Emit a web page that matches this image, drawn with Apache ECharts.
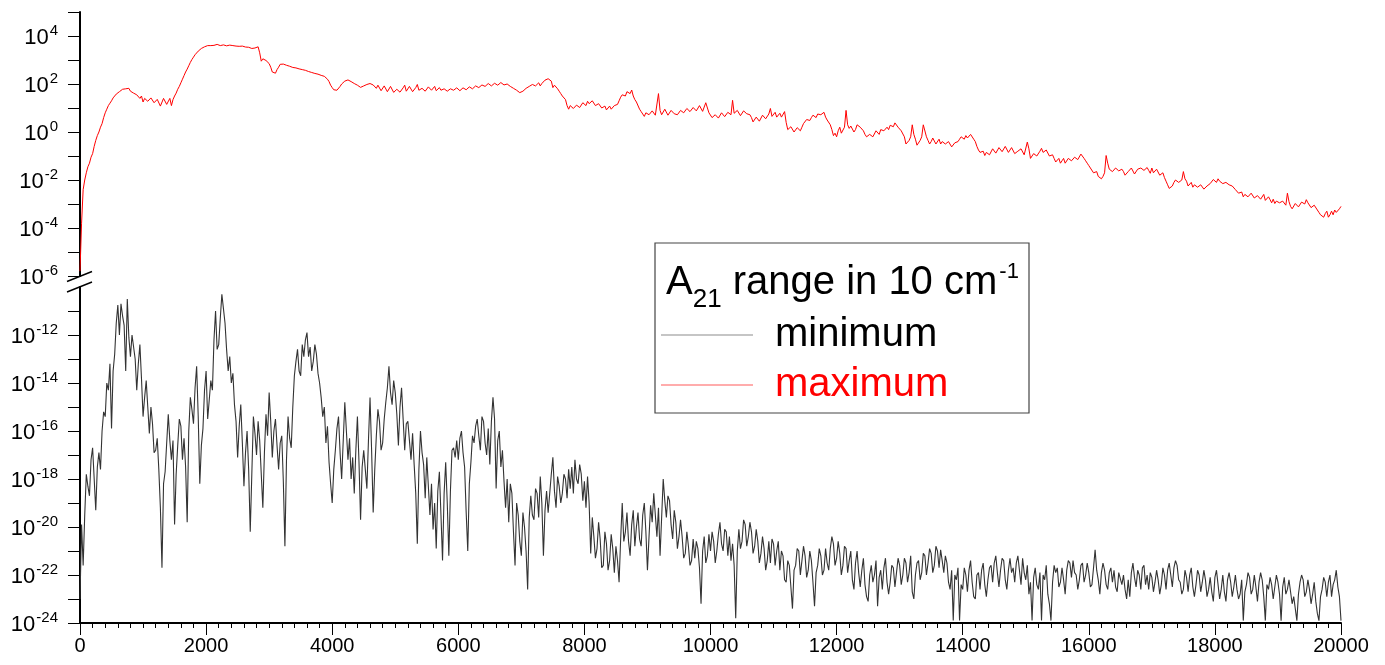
<!DOCTYPE html>
<html>
<head>
<meta charset="utf-8">
<script src="https://cdn.jsdelivr.net/npm/echarts@6/dist/echarts.min.js"></script>
<style>
  html, body { margin: 0; padding: 0; background: #fff; }
  #chart { width: 1385px; height: 665px; }
</style>
</head>
<body>
<div id="chart"></div>
<script>
// Wavenumber spacing (cm-1) of the sampled spectra; one row below = 1000 cm-1.
const step = 25;

// log10 of the largest A21 value found in each window (red curve).
const maxLog10 = [
  -5.8,-3.8,-2.4,-2.0,-1.7,-1.45,-1.3,-1.05,-0.9,-0.6,-0.35,-0.15,0.0,0.2,0.35,0.6,0.8,0.95,1.1,1.2,1.3,1.42,1.5,1.58,1.62,1.68,1.72,1.78,1.82,1.8,1.78,1.82,1.7,1.66,1.62,1.6,1.55,1.48,1.4,1.5,
  1.25,1.4,1.45,1.28,1.2,1.42,1.38,1.22,1.15,1.36,1.3,1.08,1.05,1.4,1.35,1.15,1.2,1.4,1.1,1.35,1.5,1.62,1.78,1.9,2.05,2.2,2.35,2.5,2.62,2.76,2.9,3.02,3.12,3.22,3.3,3.37,3.42,3.48,3.52,3.55,
  3.58,3.6,3.62,3.6,3.64,3.61,3.6,3.65,3.63,3.6,3.58,3.63,3.62,3.59,3.57,3.62,3.64,3.6,3.59,3.58,3.6,3.57,3.55,3.58,3.56,3.54,3.52,3.53,3.5,3.48,3.46,3.5,3.52,3.55,3.3,2.95,3.05,3.02,2.98,3.0,
  2.85,2.7,2.5,2.42,2.45,2.6,2.7,2.82,2.86,2.83,2.8,2.78,2.75,2.74,2.72,2.69,2.7,2.67,2.66,2.63,2.62,2.6,2.58,2.57,2.55,2.52,2.5,2.48,2.45,2.44,2.42,2.41,2.4,2.36,2.35,2.32,2.3,2.2,2.1,1.95,
  1.85,1.76,1.72,1.74,1.8,1.9,2.0,2.08,2.12,2.16,2.17,2.13,2.1,2.05,2.02,1.97,1.95,1.9,1.86,1.9,1.92,1.95,1.98,2.01,2.02,2.0,1.96,1.9,1.82,1.95,1.9,1.72,1.75,1.92,1.88,1.68,1.7,1.9,1.82,1.65,
  1.62,1.78,1.85,1.66,1.7,1.84,1.95,1.7,1.72,1.9,1.88,1.68,1.76,1.85,1.98,1.74,1.7,1.82,1.9,1.7,1.75,1.88,1.95,1.74,1.8,1.9,1.72,1.8,1.85,1.74,1.68,1.8,1.78,1.7,1.72,1.8,1.85,1.74,1.76,1.84,
  1.8,1.72,1.74,1.84,1.86,1.76,1.78,1.88,1.9,1.8,1.82,1.92,1.95,1.85,1.88,1.96,1.98,1.9,1.92,2.02,2.0,1.92,1.94,2.03,2.04,1.95,1.97,2.06,2.05,1.96,1.9,2.0,1.98,1.9,1.86,1.82,1.78,1.74,1.7,1.64,
  1.62,1.7,1.75,1.82,1.88,1.9,1.92,1.98,1.96,1.92,2.0,2.05,1.92,2.02,2.1,2.16,2.2,2.22,2.25,2.12,1.85,1.95,2.0,1.8,1.7,1.6,1.5,1.42,1.35,1.1,0.95,1.1,1.05,0.98,1.0,1.12,1.15,1.02,1.1,1.22,
  1.2,1.1,1.28,1.18,1.15,1.3,1.25,1.1,1.05,1.18,1.12,1.0,0.95,1.08,0.92,1.0,1.08,0.95,0.98,1.1,1.05,1.15,1.3,1.45,1.55,1.62,1.5,1.68,1.72,1.6,1.75,1.5,1.35,1.25,1.2,0.95,0.85,0.75,0.65,0.8,
  0.85,0.72,0.7,0.88,0.9,0.7,0.75,1.6,0.9,0.72,0.78,0.95,0.95,0.7,0.72,0.9,0.88,0.76,0.8,0.72,0.75,0.9,0.95,0.8,0.82,0.98,1.0,0.85,0.88,1.02,1.05,0.88,0.85,1.1,1.15,0.86,0.9,1.22,1.2,0.8,
  0.75,0.6,0.57,0.72,0.7,0.58,0.62,0.8,0.78,0.64,0.68,0.82,0.85,0.72,1.32,0.78,0.75,0.9,0.85,0.68,0.7,0.88,0.9,0.76,0.82,0.72,0.6,0.42,0.45,0.62,0.6,0.45,0.5,0.7,0.72,0.55,0.62,0.75,0.98,0.65,
  0.7,0.82,0.62,0.7,0.78,0.62,0.7,0.85,0.4,0.1,0.1,0.22,0.15,0.0,0.05,0.18,0.12,0.05,0.2,0.35,0.4,0.52,0.55,0.48,0.6,0.7,0.68,0.6,0.75,0.8,0.72,0.65,0.82,0.62,0.5,0.45,0.3,0.1,-0.15,-0.05,
  -0.2,0.05,0.2,-0.05,0.0,0.2,0.9,0.3,0.15,0.25,0.3,0.0,0.1,0.3,0.38,0.2,0.25,0.05,-0.1,-0.2,-0.25,-0.1,-0.05,-0.2,-0.15,0.05,0.02,-0.1,0.1,0.15,0.05,0.12,0.2,0.1,0.28,0.35,0.22,0.38,0.35,0.2,
  0.25,0.05,0.1,-0.2,-0.5,-0.55,-0.35,-0.2,0.3,-0.1,-0.3,-0.55,-0.5,-0.35,-0.2,0.3,0.25,-0.2,-0.35,-0.5,-0.4,-0.25,-0.3,-0.5,-0.45,-0.3,-0.5,-0.4,-0.35,-0.5,-0.55,-0.4,-0.45,-0.62,-0.6,-0.45,-0.52,-0.4,-0.3,-0.2,
  -0.2,-0.3,-0.15,-0.25,-0.22,-0.1,-0.12,-0.3,-0.4,-0.6,-0.75,-0.85,-0.9,-0.8,-0.98,-0.85,-0.78,-0.95,-0.9,-0.7,-0.72,-0.88,-0.85,-0.65,-0.68,-0.82,-0.8,-0.6,-0.6,-0.85,-0.78,-0.65,-0.7,-0.9,-0.95,-0.8,-0.85,-0.7,-0.75,-0.95,
  -0.9,-0.42,-0.7,-1.1,-1.1,-0.9,-0.85,-1.0,-0.95,-0.8,-0.68,-0.85,-0.9,-0.75,-0.8,-1.0,-1.05,-0.95,-1.1,-1.25,-1.2,-1.1,-1.3,-1.2,-1.1,-1.3,-1.25,-1.1,-1.05,-1.2,-1.18,-1.05,-1.0,-1.15,-1.1,-0.92,-0.95,-1.1,-1.2,-1.3,
  -1.4,-1.5,-1.55,-1.7,-1.75,-1.65,-1.85,-1.9,-1.95,-1.85,-1.7,-0.98,-1.3,-1.55,-1.5,-1.65,-1.6,-1.5,-1.45,-1.62,-1.7,-1.55,-1.65,-1.8,-1.82,-1.65,-1.7,-1.5,-1.55,-1.75,-1.72,-1.55,-1.6,-1.5,-1.45,-1.6,-1.52,-1.48,-1.6,-1.72,
  -1.5,-1.7,-1.65,-1.55,-1.6,-1.8,-1.75,-1.7,-1.9,-2.05,-2.2,-2.35,-2.4,-2.25,-2.1,-2.0,-1.95,-2.1,-2.15,-2.0,-1.65,-1.95,-2.05,-2.25,-2.2,-2.1,-2.3,-2.2,-2.15,-2.3,-2.35,-2.2,-2.25,-2.38,-2.42,-2.25,-2.3,-2.15,-2.1,-1.98,
  -2.05,-2.1,-1.95,-2.05,-2.0,-2.15,-2.2,-2.1,-2.05,-2.2,-2.15,-2.25,-2.3,-2.4,-2.45,-2.55,-2.6,-2.5,-2.7,-2.6,-2.55,-2.7,-2.72,-2.55,-2.6,-2.75,-2.8,-2.65,-2.62,-2.8,-2.75,-2.6,-2.85,-2.9,-2.7,-2.82,-2.95,-2.8,-2.98,-2.88,
  -2.85,-2.95,-3.0,-2.88,-2.9,-3.05,-2.55,-2.9,-3.1,-3.2,-3.12,-2.98,-2.95,-3.12,-3.05,-2.92,-2.9,-3.0,-2.82,-2.95,-3.0,-3.15,-3.2,-3.05,-3.1,-3.25,-3.35,-3.45,-3.5,-3.55,-3.4,-3.3,-3.55,-3.45,-3.3,-3.45,-3.25,-3.35,-3.4,-3.2,
  -3.1
];

// log10 of the smallest A21 value found in each window (black curve).
const minLog10 = [
  -23.0,-19.9,-21.6,-19.5,-17.8,-18.3,-18.7,-17.2,-16.7,-18.0,-19.3,-17.5,-16.9,-17.6,-16.0,-15.2,-15.4,-14.0,-14.3,-13.2,-15.9,-13.5,-12.8,-11.5,-10.75,-12.0,-10.7,-11.2,-11.6,-13.5,-10.5,-12.1,-12.9,-12.0,-12.5,-13.0,-14.3,-13.2,-12.4,-13.8,
  -15.4,-14.6,-13.9,-15.0,-16.1,-15.0,-15.7,-16.9,-16.8,-16.3,-17.6,-19.2,-21.7,-18.2,-17.7,-16.5,-15.3,-16.4,-17.2,-16.4,-19.9,-17.8,-16.6,-15.5,-15.8,-17.2,-16.3,-17.5,-19.8,-16.0,-14.6,-15.1,-15.7,-14.2,-13.3,-15.4,-18.2,-16.6,-15.9,-14.3,
  -13.5,-15.5,-14.7,-13.9,-14.3,-12.2,-11.0,-12.6,-12.4,-11.3,-10.3,-10.9,-11.5,-12.6,-13.5,-12.9,-14.0,-13.6,-14.9,-15.6,-17.1,-15.8,-14.9,-16.5,-18.3,-16.9,-16.0,-17.6,-20.2,-17.8,-15.4,-16.1,-17.0,-15.6,-16.4,-17.8,-19.2,-16.9,-15.3,-16.2,
  -14.4,-15.6,-17.1,-16.0,-15.5,-16.6,-17.6,-16.5,-16.2,-18.1,-20.8,-17.2,-15.4,-16.3,-16.7,-15.0,-13.7,-13.1,-12.6,-13.5,-13.7,-12.4,-12.9,-12.2,-11.9,-12.9,-12.5,-13.5,-13.1,-12.4,-12.8,-13.6,-14.0,-14.6,-15.4,-15.0,-16.5,-15.8,-17.3,-18.2,
  -19.0,-17.6,-16.8,-15.9,-15.4,-16.9,-18.0,-16.4,-14.8,-16.0,-17.2,-16.3,-18.0,-17.1,-18.6,-16.8,-15.4,-17.3,-19.7,-17.5,-16.8,-17.6,-18.4,-16.4,-14.6,-16.8,-19.4,-17.6,-16.2,-15.1,-15.6,-16.8,-16.5,-15.5,-14.8,-14.2,-13.3,-14.4,-14.9,-13.9,
  -14.4,-15.3,-16.6,-15.0,-14.2,-15.5,-16.8,-15.7,-15.6,-16.4,-17.2,-16.1,-17.4,-18.6,-20.7,-17.6,-16.0,-16.9,-17.4,-18.8,-17.1,-18.3,-19.5,-18.2,-20.1,-19.0,-20.9,-18.5,-17.7,-19.5,-21.4,-18.6,-17.3,-19.0,-21.2,-18.5,-16.8,-16.7,-17.1,-16.4,
  -17.2,-16.3,-16.0,-16.9,-17.5,-19.4,-21.0,-18.2,-17.3,-16.2,-16.5,-15.8,-15.5,-16.2,-16.8,-15.4,-15.6,-16.5,-17.0,-15.9,-17.4,-15.6,-14.6,-15.5,-18.4,-16.4,-16.0,-17.5,-16.8,-18.1,-19.2,-18.0,-19.8,-18.2,-18.6,-20.2,-21.6,-19.0,-19.5,-20.6,
  -21.2,-19.4,-20.0,-21.0,-22.6,-19.6,-18.7,-19.5,-19.7,-18.4,-18.6,-19.6,-17.9,-19.0,-21.2,-19.3,-18.5,-19.4,-18.6,-17.8,-17.1,-18.5,-19.2,-17.9,-18.3,-19.0,-18.6,-17.8,-18.0,-18.8,-17.6,-18.4,-17.5,-18.6,-17.2,-18.0,-18.2,-17.4,-17.8,-18.9,
  -18.1,-19.2,-17.9,-19.0,-21.1,-19.6,-20.4,-21.3,-20.9,-19.8,-20.5,-21.7,-21.6,-20.2,-20.7,-21.8,-21.4,-20.3,-20.9,-21.9,-20.8,-21.4,-22.3,-20.5,-19.0,-20.6,-20.2,-19.4,-20.6,-21.2,-19.9,-19.3,-20.8,-20.0,-19.4,-20.5,-20.8,-19.5,-19.0,-20.2,
  -21.8,-20.4,-19.1,-19.8,-18.6,-19.5,-20.4,-19.2,-21.2,-19.6,-18.0,-18.9,-19.6,-18.7,-18.9,-19.9,-20.5,-19.3,-19.8,-20.9,-20.4,-19.7,-20.4,-21.3,-21.1,-20.2,-20.8,-21.6,-21.4,-20.5,-21.3,-20.6,-20.9,-21.7,-23.2,-21.0,-20.4,-21.5,-21.2,-20.3,
  -21.0,-20.2,-20.6,-21.5,-21.0,-20.3,-19.8,-20.7,-21.0,-20.1,-20.2,-21.2,-20.4,-21.4,-20.7,-21.6,-23.8,-21.0,-20.1,-20.9,-20.6,-19.7,-19.9,-20.8,-20.4,-19.8,-20.2,-21.1,-20.8,-20.1,-20.6,-21.5,-21.1,-20.4,-20.9,-21.8,-21.4,-20.6,-21.5,-20.5,
  -20.7,-21.6,-21.0,-20.6,-21.8,-21.0,-21.2,-22.2,-22.3,-21.4,-21.6,-22.5,-23.4,-21.8,-21.6,-20.9,-21.0,-22.0,-21.4,-20.8,-21.2,-22.1,-21.8,-21.0,-21.4,-22.3,-23.3,-21.9,-21.6,-20.9,-21.2,-22.0,-21.8,-20.9,-21.5,-21.8,-20.9,-20.4,-20.7,-21.6,
  -21.3,-20.6,-21.1,-22.0,-21.6,-20.8,-20.9,-21.9,-21.4,-21.0,-22.2,-22.6,-21.5,-21.0,-21.9,-22.5,-21.8,-21.3,-22.4,-22.9,-23.1,-22.0,-21.6,-22.3,-22.0,-21.4,-23.3,-22.1,-21.8,-22.6,-21.7,-21.3,-22.3,-22.8,-22.3,-21.6,-21.7,-22.5,-21.9,-21.3,
  -21.6,-22.4,-22.0,-21.3,-21.5,-22.3,-21.9,-21.2,-22.7,-23.0,-22.0,-21.5,-21.4,-22.2,-21.9,-21.1,-21.2,-22.0,-21.5,-20.9,-21.1,-21.9,-21.6,-20.8,-21.0,-21.7,-20.95,-21.4,-21.9,-21.2,-21.5,-22.3,-22.6,-21.8,-23.9,-22.0,-22.2,-21.7,-23.9,-22.4,
  -22.6,-21.7,-22.0,-22.7,-21.8,-21.4,-22.3,-22.9,-23.0,-22.0,-21.9,-22.6,-21.8,-21.5,-22.4,-22.9,-22.2,-21.7,-21.6,-22.3,-21.5,-21.2,-21.9,-22.5,-21.8,-21.3,-21.4,-22.2,-22.6,-21.8,-21.3,-21.9,-21.7,-22.3,-21.5,-21.2,-21.8,-22.4,-21.3,-21.9,
  -22.2,-21.6,-22.8,-22.3,-23.9,-22.1,-21.7,-22.4,-22.6,-21.9,-23.9,-22.0,-22.2,-21.6,-22.8,-23.2,-23.9,-22.3,-21.6,-21.9,-21.7,-22.5,-22.3,-21.7,-22.2,-22.8,-21.8,-21.4,-21.5,-22.1,-21.4,-21.9,-22.0,-22.6,-22.2,-21.6,-21.5,-22.3,-22.0,-21.5,
  -21.9,-22.5,-22.4,-21.7,-20.95,-21.8,-22.2,-22.8,-21.9,-21.5,-21.8,-22.4,-22.6,-21.9,-21.7,-22.3,-21.8,-22.5,-22.7,-21.9,-21.9,-22.4,-22.0,-22.6,-23.0,-22.2,-22.9,-21.9,-21.5,-22.1,-22.5,-21.8,-22.0,-22.6,-21.7,-21.6,-22.4,-22.0,-22.6,-21.9,
  -22.1,-22.7,-22.3,-21.8,-22.2,-22.8,-22.4,-21.7,-22.0,-22.6,-21.8,-21.5,-22.0,-22.5,-21.7,-21.4,-21.6,-22.2,-22.3,-22.8,-22.6,-21.8,-22.1,-22.7,-22.0,-21.7,-22.5,-22.9,-22.4,-21.8,-22.0,-22.7,-22.3,-21.8,-22.2,-22.9,-22.6,-22.1,-22.7,-23.1,
  -22.1,-21.8,-22.4,-23.0,-22.6,-22.0,-22.7,-23.1,-22.2,-21.9,-22.3,-22.9,-22.5,-22.0,-22.6,-23.0,-22.8,-22.2,-23.9,-22.7,-22.4,-21.9,-22.1,-22.8,-22.6,-22.0,-22.5,-23.1,-22.3,-21.9,-22.2,-22.9,-23.9,-22.4,-22.6,-22.1,-22.4,-23.0,-22.5,-22.0,
  -22.3,-22.8,-23.9,-22.5,-22.1,-22.8,-22.6,-22.2,-22.7,-23.2,-22.9,-23.4,-23.9,-22.8,-22.3,-22.0,-22.2,-22.9,-22.7,-22.2,-22.6,-23.2,-22.8,-22.3,-23.1,-23.6,-23.9,-22.9,-22.6,-22.1,-22.3,-22.9,-22.3,-22.0,-22.9,-22.4,-22.2,-21.8,-22.5,-22.9,
  -23.9
];

// Axis ticks: x in cm-1, y as powers of ten.
const xTickValues = [0, 2000, 4000, 6000, 8000, 10000, 12000, 14000, 16000, 18000, 20000];
const upperTickExps = [-6, -5, -4, -3, -2, -1, 0, 1, 2, 3, 4, 5];
const upperLabelExps = [-6, -4, -2, 0, 2, 4];
const lowerTickExps = [-24, -23, -22, -21, -20, -19, -18, -17, -16, -15, -14, -13, -12, -11];
const lowerLabelExps = [-24, -22, -20, -18, -16, -14, -12];

const legendTitle = '{a|A}{sub|21}{a| range in 10 cm}{sup|-1}';
const seriesNames = ['minimum', 'maximum'];

const FONT = '"Liberation Sans", Arial, sans-serif';
const X_MIN = 0, X_MAX = 20000;

const toPairs = arr => arr.map((v, i) => [i * step, v]);

const powerLabel = {
  fontFamily: FONT,
  color: '#000',
  margin: 22,
  formatter: v => '{b|10}{s|' + Math.round(v) + '}',
  rich: {
    b: { fontSize: 22, fontFamily: FONT, color: '#000', lineHeight: 26, verticalAlign: 'bottom' },
    s: { fontSize: 15, fontFamily: FONT, color: '#000', lineHeight: 26, verticalAlign: 'top', padding: [0, 0, 0, 1] }
  }
};

const yAxisCommon = {
  type: 'value',
  interval: 1,
  splitLine: { show: false },
  axisLine: { show: true, onZero: false, lineStyle: { color: '#000', width: 2 } },
  axisTick: { show: true, length: 12, lineStyle: { color: '#000', width: 1 } }
};

const chart = echarts.init(document.getElementById('chart'), null, { renderer: 'canvas' });

const GRID_LEFT = 80, GRID_RIGHT = 44;
const UPPER_TOP = 12, UPPER_H = 264;
const LOWER_TOP = 287, LOWER_H = 336;

chart.setOption({
  animation: false,
  backgroundColor: '#fff',
  grid: [
    { left: GRID_LEFT, right: GRID_RIGHT, top: UPPER_TOP, height: UPPER_H },
    { left: GRID_LEFT, right: GRID_RIGHT, top: LOWER_TOP, height: LOWER_H }
  ],
  xAxis: [
    { gridIndex: 0, type: 'value', min: X_MIN, max: X_MAX, show: false },
    {
      gridIndex: 1, type: 'value', min: X_MIN, max: X_MAX, interval: 2000,
      splitLine: { show: false },
      axisLine: { show: true, onZero: false, lineStyle: { color: '#000', width: 2 } },
      axisTick: { show: true, length: 12, customValues: xTickValues, lineStyle: { color: '#000', width: 1 } },
      minorTick: { show: true, splitNumber: 10, length: 5, lineStyle: { color: '#000', width: 1 } },
      axisLabel: { fontFamily: FONT, fontSize: 20, color: '#000', margin: 13, customValues: xTickValues, formatter: v => String(v) }
    }
  ],
  yAxis: [
    Object.assign({}, yAxisCommon, {
      gridIndex: 0, min: -6, max: 5,
      axisTick: Object.assign({}, yAxisCommon.axisTick, { customValues: upperTickExps }),
      axisLabel: Object.assign({}, powerLabel, { customValues: upperLabelExps })
    }),
    Object.assign({}, yAxisCommon, {
      gridIndex: 1, min: -24, max: -10,
      axisTick: Object.assign({}, yAxisCommon.axisTick, { customValues: lowerTickExps }),
      axisLabel: Object.assign({}, powerLabel, { customValues: lowerLabelExps })
    })
  ],
  title: {
    text: legendTitle,
    left: 661, top: 254,
    textStyle: {
      fontWeight: 'normal',
      rich: {
        a: { fontFamily: FONT, fontSize: 40, fontWeight: 'normal', color: '#000', lineHeight: 44, verticalAlign: 'bottom' },
        sub: { fontFamily: FONT, fontSize: 26, fontWeight: 'normal', color: '#000', lineHeight: 44, verticalAlign: 'bottom', padding: [0, 0, -10, 0] },
        sup: { fontFamily: FONT, fontSize: 22, fontWeight: 'normal', color: '#000', lineHeight: 44, verticalAlign: 'top', padding: [2, 0, 0, 2] }
      }
    }
  },
  legend: {
    show: true,
    orient: 'vertical',
    left: 661, top: 313,
    padding: 0,
    itemGap: 6,
    itemWidth: 92,
    itemHeight: 1,
    icon: 'rect',
    selectedMode: false,
    data: [
      { name: seriesNames[0], textStyle: { color: '#000' }, itemStyle: { color: '#8c8c8c' } },
      { name: seriesNames[1], textStyle: { color: '#ff0000' }, itemStyle: { color: '#ff5a5a' } }
    ],
    textStyle: { fontFamily: FONT, fontSize: 40, lineHeight: 44, padding: [0, 0, 0, 17] }
  },
  graphic: [
    // legend frame
    { type: 'rect', shape: { x: 655, y: 243, width: 374, height: 170 }, style: { fill: 'none', stroke: '#444', lineWidth: 1.2 }, z: 10, silent: true },
    // axis break marks
    { type: 'line', shape: { x1: GRID_LEFT - 13, y1: UPPER_TOP + UPPER_H + 5.5, x2: GRID_LEFT + 12, y2: UPPER_TOP + UPPER_H - 4.5 }, style: { stroke: '#000', lineWidth: 1.5 }, z: 10 },
    { type: 'line', shape: { x1: GRID_LEFT - 13, y1: LOWER_TOP + 5, x2: GRID_LEFT + 12, y2: LOWER_TOP - 5 }, style: { stroke: '#000', lineWidth: 1.5 }, z: 10 }
  ],
  series: [
    {
      name: seriesNames[0], type: 'line', xAxisIndex: 1, yAxisIndex: 1,
      data: toPairs(minLog10), showSymbol: false, symbol: 'none',
      lineStyle: { color: '#333333', width: 1.1 }, itemStyle: { color: '#333333' }
    },
    {
      name: seriesNames[1], type: 'line', xAxisIndex: 0, yAxisIndex: 0,
      data: toPairs(maxLog10), showSymbol: false, symbol: 'none',
      lineStyle: { color: '#ff0000', width: 1 }, itemStyle: { color: '#ff0000' }
    }
  ]
});
</script>
</body>
</html>
